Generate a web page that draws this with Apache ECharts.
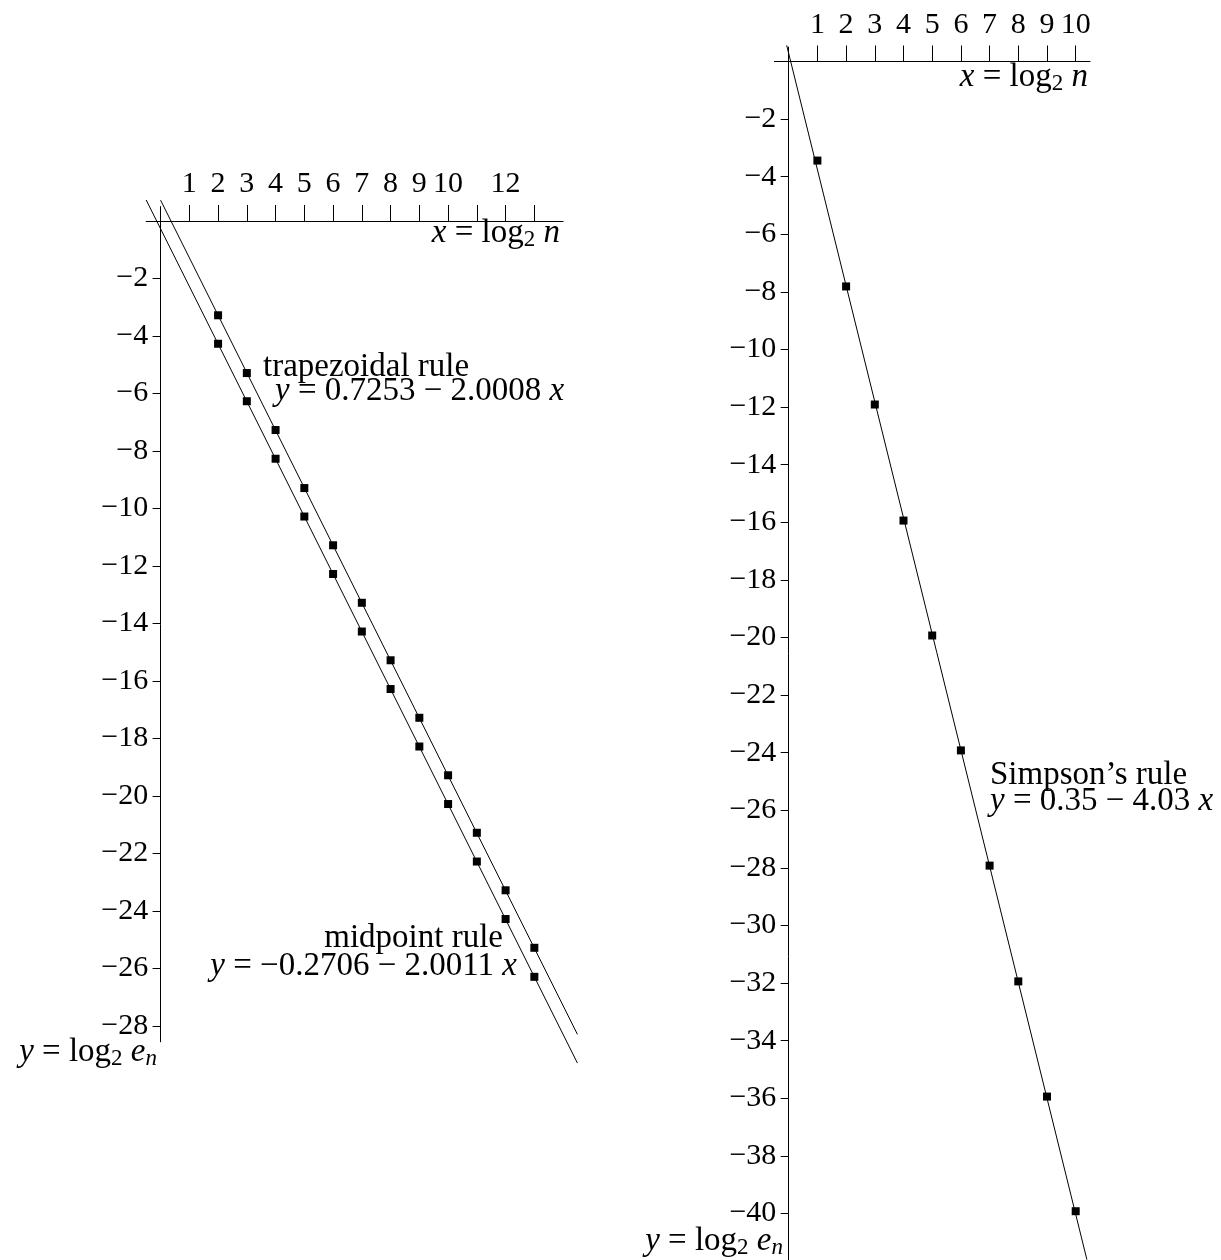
<!DOCTYPE html>
<html><head><meta charset="utf-8">
<script src="https://cdn.jsdelivr.net/npm/echarts@6/dist/echarts.min.js"></script>
<style>html,body{margin:0;padding:0;background:#fff}#c{width:1221px;height:1260px}</style>
</head><body><div id="c"></div>
<script>
// ---- data ----
const trapX = [2,3,4,5,6,7,8,9,10,11,12,13];
const trapY = [-3.28,-5.29,-7.27,-9.29,-11.28,-13.28,-15.28,-17.28,-19.28,-21.28,-23.28,-25.28];
const midX  = [2,3,4,5,6,7,8,9,10,11,12,13];
const midY  = [-4.27,-6.27,-8.27,-10.28,-12.28,-14.28,-16.28,-18.28,-20.28,-22.28,-24.28,-26.29];
const trapFitX = [0, 14.5];
const trapFitY = [0.7253, -28.29];
const midFitX  = [-0.5, 14.5];
const midFitY  = [0.73, -29.29];
const simpX = [1,2,3,4,5,6,7,8,9,10];
const simpY = [-3.44,-7.81,-11.91,-15.94,-19.93,-23.92,-27.92,-31.94,-35.94,-39.92];
const simpFitX = [-0.07, 10.39];
const simpFitY = [0.56, -41.6];
const leftXTicks  = [1,2,3,4,5,6,7,8,9,10,11,12,13];
const leftXLabels = [1,2,3,4,5,6,7,8,9,10,12];
const leftYTicks  = [-2,-4,-6,-8,-10,-12,-14,-16,-18,-20,-22,-24,-26,-28];
const rightXTicks = [1,2,3,4,5,6,7,8,9,10];
const rightYTicks = [-2,-4,-6,-8,-10,-12,-14,-16,-18,-20,-22,-24,-26,-28,-30,-32,-34,-36,-38,-40];

// ---- styling ----
const FONT = '"Liberation Serif", "Times New Roman", serif';
const FS = 30;   // tick labels
const TS = 33;   // annotation text
const zip = (xs, ys) => xs.map((x, i) => [x, ys[i]]);
const fmt = v => (v < 0 ? '\u2212' + Math.abs(v) : String(v));

function xAxisCfg(grid, min, max, ticks, labels) {
  return {
    type: 'value', gridIndex: grid, position: 'top', min, max,
    axisLine: { show: true, onZero: true, lineStyle: { color: '#000', width: 1 } },
    axisTick: { show: true, customValues: ticks, length: 16, lineStyle: { color: '#000', width: 1 } },
    axisLabel: { customValues: labels, margin: 7, color: '#000', fontFamily: FONT, fontSize: FS, formatter: fmt },
    splitLine: { show: false }
  };
}
function yAxisCfg(grid, min, max, ticks) {
  return {
    type: 'value', gridIndex: grid, position: 'left', min, max,
    axisLine: { show: true, onZero: true, lineStyle: { color: '#000', width: 1 } },
    axisTick: { show: true, customValues: ticks, length: 8, lineStyle: { color: '#000', width: 1 } },
    axisLabel: { customValues: ticks, margin: -2, color: '#000', fontFamily: FONT, fontSize: FS, formatter: fmt },
    splitLine: { show: false }
  };
}
const hiddenAxis = (grid, min, max) => ({ type: 'value', gridIndex: grid, min, max, show: false });
const lineS = (ai, data) => ({
  type: 'line', xAxisIndex: ai, yAxisIndex: ai, data, showSymbol: false, clip: false, silent: true,
  lineStyle: { color: '#000', width: 1, opacity: 1 }, z: 2
});
const dotS = (ai, data) => ({
  type: 'scatter', xAxisIndex: ai, yAxisIndex: ai, data, symbol: 'rect', symbolSize: 8, silent: true,
  itemStyle: { color: '#000', opacity: 1 }, z: 3
});

const rich = {
  r: { fontFamily: FONT, fontSize: TS, lineHeight: 36, verticalAlign: 'middle' },
  i: { fontFamily: FONT, fontSize: TS, fontStyle: 'italic', lineHeight: 36, verticalAlign: 'middle' },
  s: { fontFamily: FONT, fontSize: 23, verticalAlign: 'bottom' },
  si: { fontFamily: FONT, fontSize: 23, fontStyle: 'italic', verticalAlign: 'bottom' }
};
function txt(text, x, y, align) {
  return { type: 'text', x, y, silent: true, z: 10,
    style: { text, rich, fill: '#000', font: TS + 'px ' + FONT, align, verticalAlign: 'middle' } };
}
const M = '\u2212';

const option = {
  animation: false,
  backgroundColor: '#fff',
  grid: [
    { left: 146.2, top: 206.6, width: 416.9, height: 835.2 },
    { left: 774.35, top: 47.1, width: 315.7, height: 1212.5 },
    { left: 146.2, top: 192.25, width: 431.25, height: 876.9 },
    { left: 774.35, top: 32.7, width: 315.7, height: 1226.9 }
  ],
  xAxis: [
    xAxisCfg(0, -0.5, 14, leftXTicks, leftXLabels),
    xAxisCfg(1, -0.5, 10.5, rightXTicks, rightXTicks),
    hiddenAxis(2, -0.5, 14.5),
    hiddenAxis(3, -0.5, 10.5)
  ],
  yAxis: [
    yAxisCfg(0, -28.55, 0.5, leftYTicks),
    yAxisCfg(1, -41.6, 0.5, rightYTicks),
    hiddenAxis(2, -29.5, 1),
    hiddenAxis(3, -41.6, 1)
  ],
  series: [
    lineS(2, zip(trapFitX, trapFitY)),
    lineS(2, zip(midFitX, midFitY)),
    dotS(0, zip(trapX, trapY)),
    dotS(0, zip(midX, midY)),
    lineS(3, zip(simpFitX, simpFitY)),
    dotS(1, zip(simpX, simpY))
  ],
  graphic: [
    txt('{r|trapezoidal rule}', 263, 367, 'left'),
    txt('{i|y}{r| = 0.7253 ' + M + ' 2.0008 }{i|x}', 275, 391, 'left'),
    txt('{r|midpoint rule}', 503, 938, 'right'),
    txt('{i|y}{r| = ' + M + '0.2706 ' + M + ' 2.0011 }{i|x}', 517, 966, 'right'),
    txt('{r|Simpson\u2019s rule}', 990, 775, 'left'),
    txt('{i|y}{r| = 0.35 ' + M + ' 4.03 }{i|x}', 990, 801, 'left'),
    txt('{i|x}{r| = log}{s|2}{r| }{i|n}', 560, 233, 'right'),
    txt('{i|y}{r| = log}{s|2}{r| }{i|e}{si|n}', 157, 1052, 'right'),
    txt('{i|x}{r| = log}{s|2}{r| }{i|n}', 1088, 77, 'right'),
    txt('{i|y}{r| = log}{s|2}{r| }{i|e}{si|n}', 783, 1241, 'right')
  ]
};
const chart = echarts.init(document.getElementById('c'), null, { renderer: 'canvas' });
chart.setOption(option);
</script>
</body></html>
